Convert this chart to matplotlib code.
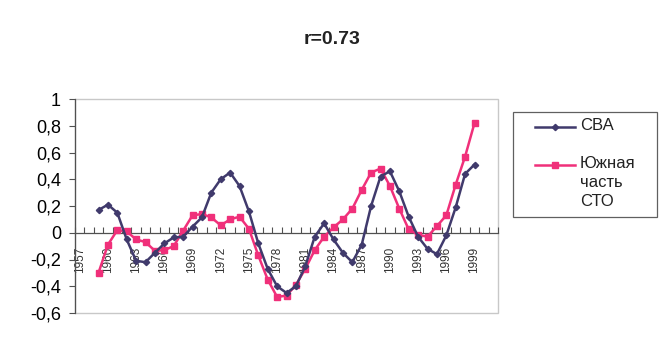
import matplotlib
matplotlib.use("Agg")
import matplotlib.pyplot as plt
from matplotlib.lines import Line2D
from matplotlib.patches import Rectangle
from matplotlib.ticker import FixedLocator, FixedFormatter

plt.rcParams['font.family'] = ['Liberation Sans', 'DejaVu Sans']

title = "r=0.73"
categories = list(range(1957, 2002))
years = list(range(1959, 2000))
cva = [0.17, 0.21, 0.15, -0.05, -0.21, -0.22, -0.15, -0.08, -0.035, -0.03,
       0.045, 0.115, 0.30, 0.40, 0.45, 0.35, 0.16, -0.08, -0.27, -0.40,
       -0.45, -0.40, -0.25, -0.03, 0.07, -0.05, -0.15, -0.22, -0.09, 0.20,
       0.42, 0.46, 0.31, 0.12, -0.03, -0.12, -0.16, -0.02, 0.19, 0.44, 0.51]
sto = [-0.30, -0.09, 0.02, 0.01, -0.05, -0.07, -0.135, -0.13, -0.10, 0.015,
       0.13, 0.14, 0.115, 0.055, 0.10, 0.12, 0.03, -0.17, -0.35, -0.48,
       -0.47, -0.39, -0.27, -0.13, -0.03, 0.04, 0.10, 0.18, 0.32, 0.45,
       0.48, 0.35, 0.18, 0.025, -0.015, -0.03, 0.05, 0.13, 0.36, 0.57, 0.82]
series_names = ["СВА", "Южная\nчасть\nСТО"]
yticks = [-0.6, -0.4, -0.2, 0, 0.2, 0.4, 0.6, 0.8, 1.0]
ytick_labels = ["-0,6", "-0,4", "-0,2", "0", "0,2", "0,4", "0,6", "0,8", "1"]

dark = "#403a6c"
pink = "#f0307a"

W, H = 669, 340
fig = plt.figure(figsize=(W / 100, H / 100), dpi=100)
fig.patch.set_facecolor("white")
ax = fig.add_axes([75 / W, (H - 313) / H, (498 - 75) / W, (313 - 99) / H])

xi = [categories.index(y) for y in years]
ax.plot(xi, sto, color=pink, lw=1.8, marker="s", ms=5, mec=pink, mfc=pink, zorder=3)
ax.plot(xi, cva, color=dark, lw=1.8, marker="D", ms=3.2, mec=dark, mfc=dark, zorder=4)

ax.set_xlim(-0.5, len(categories) - 0.5)
ax.set_ylim(-0.6, 1.0)

# frame of plot area
ax.add_patch(Rectangle((0, 0), 1, 1, transform=ax.transAxes, fill=False,
                       ec="#c8c8c8", lw=1.0, zorder=1, clip_on=False))
for s in ["top", "right"]:
    ax.spines[s].set_visible(False)
ax.spines["left"].set_color("#505050")
ax.spines["left"].set_linewidth(0.9)
ax.spines["bottom"].set_position(("data", 0))
ax.spines["bottom"].set_color("#505050")
ax.spines["bottom"].set_linewidth(0.9)

ax.set_yticks(yticks)
ax.set_yticklabels(ytick_labels, fontsize=13)
ax.tick_params(axis="y", direction="out", length=4, width=0.8, color="#505050", pad=6)

bounds = [i - 0.5 for i in range(len(categories) + 1)]
ax.xaxis.set_major_locator(FixedLocator(bounds))
ax.xaxis.set_major_formatter(FixedFormatter([""] * len(bounds)))
lab_idx = list(range(0, len(categories), 3))
lab_idx = [i for i in lab_idx if categories[i] <= 1999]
ax.xaxis.set_minor_locator(FixedLocator(lab_idx))
ax.xaxis.set_minor_formatter(FixedFormatter([str(categories[i]) for i in lab_idx]))
ax.tick_params(axis="x", which="major", direction="in", length=4, width=0.8, color="#505050")
ax.tick_params(axis="x", which="minor", length=0, pad=10, labelsize=8.5,
               labelrotation=90, labelcolor="#333333")

fig.text(332 / W, 1 - 40 / H, title, ha="center", va="center",
         fontsize=14, fontweight="bold", color="#222222")

# legend
fig.patches.append(Rectangle((513 / W, 1 - 217 / H), (657 - 513) / W, (217 - 112) / H,
                             transform=fig.transFigure, fill=False, ec="#606060", lw=0.9))
for yc, col, mk, ms, name in [(127, dark, "D", 3.2, series_names[0]),
                              (165, pink, "s", 5, series_names[1])]:
    fig.add_artist(Line2D([535 / W, 575 / W], [1 - yc / H, 1 - yc / H], color=col, lw=1.8,
                          transform=fig.transFigure))
    fig.add_artist(Line2D([555 / W], [1 - yc / H], color=col, marker=mk, ms=ms,
                          transform=fig.transFigure))
    fig.text(580 / W, 1 - yc / H + 8.5 / H, name, ha="left", va="top", fontsize=12,
             linespacing=1.3, color="#222222")

fig.savefig("out.png", dpi=100)
